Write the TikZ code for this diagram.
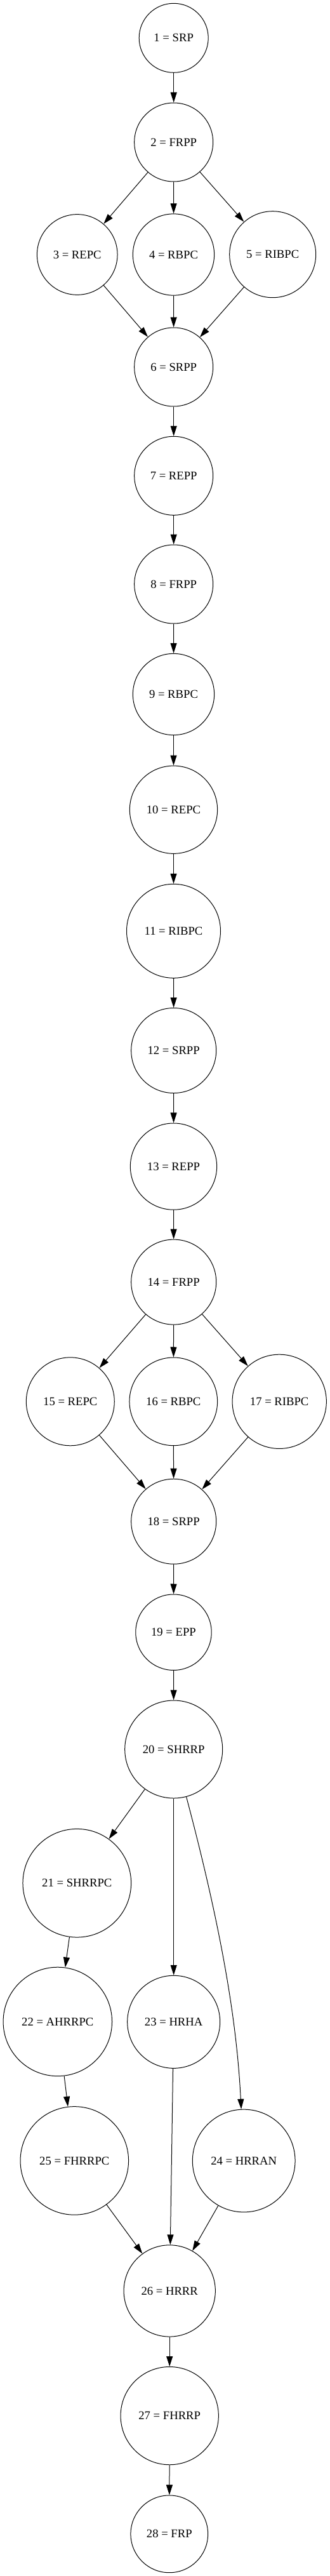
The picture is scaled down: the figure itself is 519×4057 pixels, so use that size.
\documentclass[tikz,border=0pt]{standalone}
\usepackage{fontspec}
\setmainfont{Liberation Serif}
\usetikzlibrary{arrows.meta}
\begin{document}
\begin{tikzpicture}[x=0.75pt, y=-0.75pt,
  nd/.style={circle, draw, line width=0.75pt, inner sep=0pt, minimum size=#1, font=\fontsize{14pt}{17pt}\selectfont},
  arr/.style={line width=0.75pt, -{Triangle[length=12pt,width=7.5pt]}}]
\useasboundingbox (0,0) rectangle (519,4057);
\node[nd=81.75pt] (n1) at (273.7,59.8) {1 = SRP};
\node[nd=93pt] (n2) at (273.7,224) {2 = FRPP};
\node[nd=95pt] (n3) at (121.7,401) {3 = REPC};
\node[nd=96.2pt] (n4) at (273.5,401) {4 = RBPC};
\node[nd=102pt] (n5) at (429.7,400.7) {5 = RIBPC};
\node[nd=93pt] (n6) at (273.7,578) {6 = SRPP};
\node[nd=93pt] (n7) at (273.7,749.3) {7 = REPP};
\node[nd=93pt] (n8) at (273.7,920) {8 = FRPP};
\node[nd=96.2pt] (n9) at (273.5,1093.5) {9 = RBPC};
\node[nd=103.7pt] (n10) at (273.5,1275.2) {10 = REPC};
\node[nd=111pt] (n11) at (273.5,1466.3) {11 = RIBPC};
\node[nd=100.5pt] (n12) at (273.7,1654.5) {12 = SRPP};
\node[nd=102.2pt] (n13) at (273.5,1837.1) {13 = REPP};
\node[nd=100.5pt] (n14) at (273.7,2019.1) {14 = FRPP};
\node[nd=104.2pt] (n15) at (110.8,2207.3) {15 = REPC};
\node[nd=104pt] (n16) at (273.3,2207.3) {16 = RBPC};
\node[nd=111.2pt] (n17) at (440.2,2207.3) {17 = RIBPC};
\node[nd=100.5pt] (n18) at (273.7,2396.2) {18 = SRPP};
\node[nd=89.6pt] (n19) at (273.5,2570.7) {19 = EPP};
\node[nd=115.5pt] (n20) at (273.7,2755) {20 = SHRRP};
\node[nd=128pt] (n21) at (121.3,2965.7) {21 = SHRRPC};
\node[nd=128.6pt] (n22) at (90.8,3183.9) {22 = AHRRPC};
\node[nd=109.5pt] (n23) at (273.7,3184.3) {23 = HRHA};
\node[nd=121.3pt] (n24) at (384.2,3403) {24 = HRRAN};
\node[nd=127.9pt] (n25) at (117.3,3402.9) {25 = FHRRPC};
\node[nd=108.2pt] (n26) at (267.2,3607.9) {26 = HRRR};
\node[nd=115.7pt] (n27) at (267.2,3804.6) {27 = FHRRP};
\node[nd=91.3pt] (n28) at (266.8,3990.8) {28 = FRP};
\draw[arr] (n1) -- (n2);
\draw[arr] (n2) -- (n3);
\draw[arr] (n2) -- (n4);
\draw[arr] (n2) -- (n5);
\draw[arr] (n3) -- (n6);
\draw[arr] (n4) -- (n6);
\draw[arr] (n5) -- (n6);
\draw[arr] (n6) -- (n7);
\draw[arr] (n7) -- (n8);
\draw[arr] (n8) -- (n9);
\draw[arr] (n9) -- (n10);
\draw[arr] (n10) -- (n11);
\draw[arr] (n11) -- (n12);
\draw[arr] (n12) -- (n13);
\draw[arr] (n13) -- (n14);
\draw[arr] (n14) -- (n15);
\draw[arr] (n14) -- (n16);
\draw[arr] (n14) -- (n17);
\draw[arr] (n15) -- (n18);
\draw[arr] (n16) -- (n18);
\draw[arr] (n17) -- (n18);
\draw[arr] (n18) -- (n19);
\draw[arr] (n19) -- (n20);
\draw[arr] (n20) -- (n21);
\draw[arr] (n20) -- (n23);
\draw[arr] (n20) .. controls (354.8,3060) and (374,3200) .. (n24);
\draw[arr] (n21) -- (n22);
\draw[arr] (n22) -- (n25);
\draw[arr] (n23) -- (n26);
\draw[arr] (n25) -- (n26);
\draw[arr] (n24) -- (n26);
\draw[arr] (n26) -- (n27);
\draw[arr] (n27) -- (n28);
\end{tikzpicture}
\end{document}
